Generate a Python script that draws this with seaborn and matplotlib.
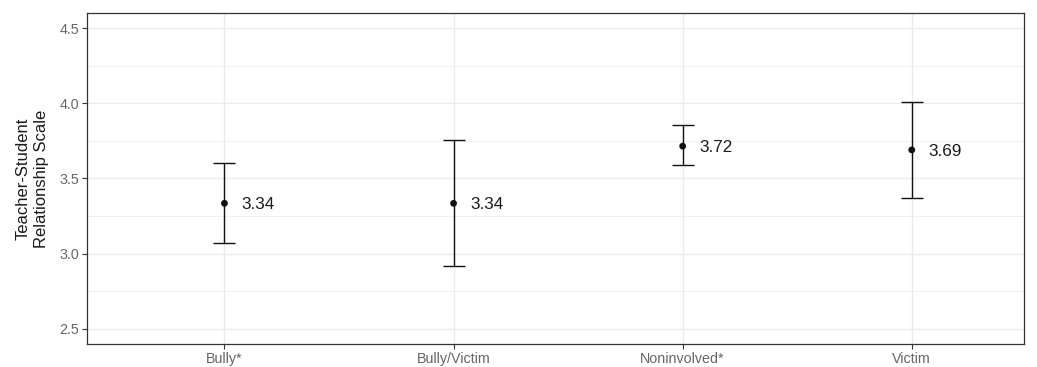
import matplotlib
matplotlib.use("Agg")
import matplotlib.pyplot as plt
import seaborn as sns
import pandas as pd
import numpy as np
from matplotlib.ticker import MultipleLocator

# datos
groups = ["Bully*", "Bully/Victim", "Noninvolved*", "Victim"]
means = [3.335, 3.335, 3.715, 3.69]
lower = [3.07, 2.92, 3.59, 3.37]
upper = [3.60, 3.757, 3.855, 4.01]
labels = ["3.34", "3.34", "3.72", "3.69"]

df = pd.DataFrame({"group": groups, "mean": means, "lo": lower, "hi": upper, "lab": labels})
df["x"] = np.arange(len(groups))

sns.set_theme(style="whitegrid")
plt.rcParams["font.family"] = ["Liberation Sans", "DejaVu Sans"]

fig = plt.figure(figsize=(10.37, 3.67), dpi=100)
ax = fig.add_axes([0.0839, 0.0627, 0.9036, 0.9019])

ax.errorbar(df["x"], df["mean"],
            yerr=[df["mean"] - df["lo"], df["hi"] - df["mean"]],
            fmt="none", ecolor="#111111", elinewidth=1.0, capsize=8, capthick=1.0, zorder=3)
sns.scatterplot(data=df, x="x", y="mean", color="#111111", s=24, edgecolor="none", ax=ax, zorder=4)

for _, r in df.iterrows():
    ax.annotate(r["lab"], (r["x"], r["mean"]), xytext=(12, -1), textcoords="offset points",
                ha="left", va="center", fontsize=12.3, color="#1a1a1a")

ax.set_xlim(-0.6, 3.49)
ax.set_ylim(2.4, 4.6)
ax.set_xticks(df["x"])
ax.set_xticklabels(groups)
ax.yaxis.set_major_locator(MultipleLocator(0.5))
ax.yaxis.set_minor_locator(MultipleLocator(0.25))
ax.yaxis.set_major_formatter(matplotlib.ticker.FormatStrFormatter("%.1f"))

ax.grid(which="major", color="#ebebeb", linewidth=1.0)
ax.grid(which="minor", axis="y", color="#ebebeb", linewidth=0.5)
ax.set_axisbelow(True)
for s in ax.spines.values():
    s.set_color("#333333")
    s.set_linewidth(0.9)

ax.tick_params(axis="both", which="major", length=3.5, width=0.8, color="#333333",
               labelsize=10.3, labelcolor="#666666", pad=2, left=True, bottom=True)
ax.tick_params(axis="y", which="minor", length=0, left=False)

ax.set_xlabel("")
ax.set_ylabel("Teacher-Student\nRelationship Scale", fontsize=12, color="#1a1a1a",
              linespacing=1.2, labelpad=8)

fig.savefig("out.png", dpi=100)
